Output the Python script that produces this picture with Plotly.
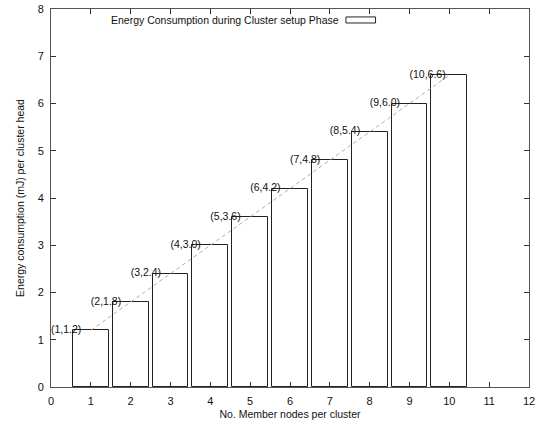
import plotly.graph_objects as go

nodes = [1, 2, 3, 4, 5, 6, 7, 8, 9, 10]
energy = [1.2, 1.8, 2.4, 3.0, 3.6, 4.2, 4.8, 5.4, 6.0, 6.6]
point_labels = ["(1,1.2)", "(2,1.8)", "(3,2.4)", "(4,3.0)", "(5,3.6)",
                "(6,4.2)", "(7,4.8)", "(8,5.4)", "(9,6.0)", "(10,6.6)"]
x_ticks = list(range(0, 13))
y_ticks = list(range(0, 9))
series_name = "Energy Consumption during Cluster setup Phase"

FONT = "Liberation Sans, Arial, Helvetica, sans-serif"

fig = go.Figure()
fig.add_trace(go.Bar(
    x=nodes, y=energy, width=0.9, name=series_name,
    marker=dict(color="white", line=dict(color="#222222", width=1)),
    showlegend=False,
))
fig.add_trace(go.Scatter(
    x=nodes, y=energy, mode="lines",
    line=dict(color="#b0b0b0", width=1, dash="4px,3px"),
    showlegend=False, hoverinfo="skip",
))
fig.add_trace(go.Scatter(
    x=[n - 1 for n in nodes], y=energy, mode="text", text=point_labels,
    textposition="middle right", textfont=dict(family=FONT, size=10.5, color="#111111"),
    showlegend=False, cliponaxis=False,
))

# gnuplot-style key: text followed by sample box
fig.add_annotation(xref="paper", yref="paper", x=0.606, y=0.971,
                   xanchor="right", yanchor="middle", showarrow=False,
                   text=series_name, font=dict(family=FONT, size=10.5, color="#111111"))
fig.add_shape(type="rect", xref="paper", yref="paper",
              x0=0.617, x1=0.679, y0=0.963, y1=0.979,
              line=dict(color="#222222", width=1), fillcolor="white")

axis_common = dict(
    showline=True, linecolor="#555555", linewidth=1, mirror="ticks",
    ticks="inside", ticklen=5, tickcolor="#333333", tickwidth=1,
    showgrid=False, zeroline=False, automargin=False,
    tickfont=dict(family=FONT, size=11, color="#111111"),
)
fig.update_xaxes(range=[0, 12], tickvals=x_ticks, **axis_common, ticklabelstandoff=4,
                 title=dict(text="No. Member nodes per cluster",
                            font=dict(family=FONT, size=10.5, color="#111111"), standoff=4))
fig.update_yaxes(range=[0, 8], tickvals=y_ticks, **axis_common, ticklabelstandoff=4,
                 title=dict(text="Energy consumption (mJ) per cluster head",
                            font=dict(family=FONT, size=10.5, color="#111111"), standoff=10))

fig.update_layout(
    width=542, height=425,
    margin=dict(l=51, r=13, t=9, b=38),
    paper_bgcolor="white", plot_bgcolor="white",
    bargap=0,
)
fig.write_html("out.html")
